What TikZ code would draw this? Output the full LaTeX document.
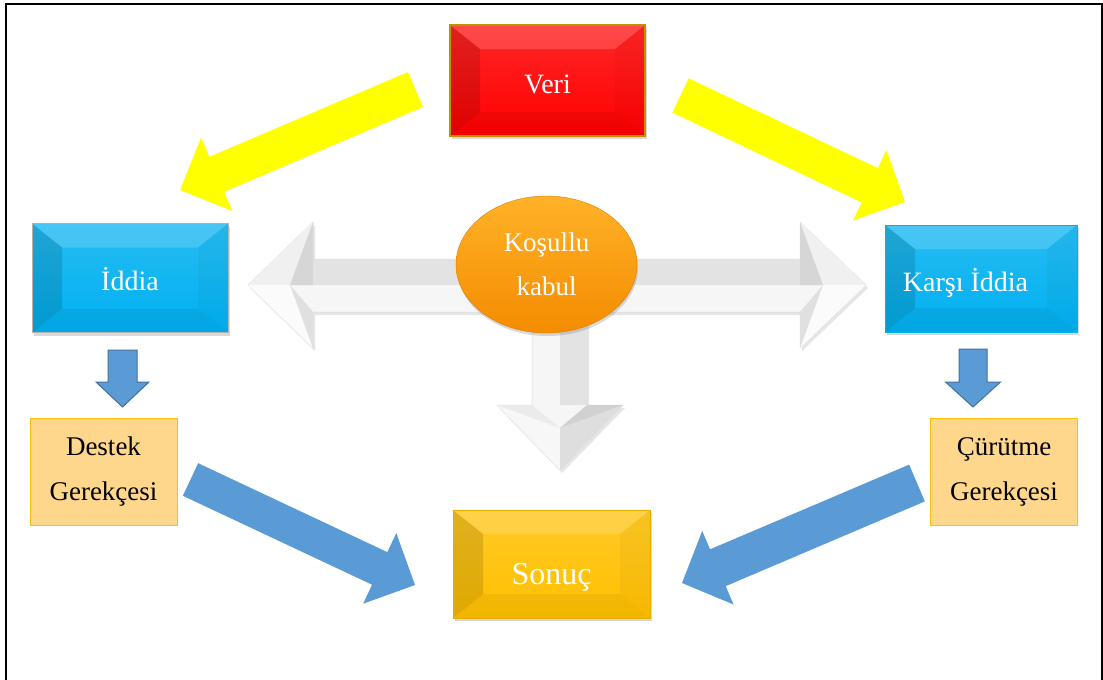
\documentclass[tikz,border=0pt]{standalone}
\usepackage{fontspec}
\setmainfont{Liberation Serif}
\usetikzlibrary{shapes.geometric,shadows,calc}

\definecolor{veriRed}{RGB}{255,0,0}
\definecolor{veriLine}{RGB}{192,144,0}
\definecolor{iddiaBlue}{RGB}{0,176,240}
\definecolor{sonucGold}{RGB}{255,192,0}
\definecolor{gerekceFill}{RGB}{255,215,140}
\definecolor{gerekceLine}{RGB}{255,192,0}
\definecolor{arrowYellow}{RGB}{255,255,0}
\definecolor{arrowBlue}{RGB}{91,155,213}
\definecolor{arrowBlueLine}{RGB}{65,113,156}
\definecolor{kabulTop}{RGB}{255,178,40}
\definecolor{kabulBottom}{RGB}{244,140,0}

\newcommand{\blockarrow}[6][]{%
  \coordinate (#2-#3-base) at ($(#3)!#6!(#2)$);
  \fill[#1] ($(#2)!#4!90:(#3)$) -- ($(#2-#3-base)!#4!90:(#3)$)
    -- ($(#2-#3-base)!#5!90:(#3)$) -- (#3)
    -- ($(#2-#3-base)!#5!-90:(#3)$) -- ($(#2-#3-base)!#4!-90:(#3)$)
    -- ($(#2)!#4!-90:(#3)$) -- cycle;
}

\tikzset{
  bevel/.style={
    rectangle,
    top color=#1!85!white,
    bottom color=#1,
    text=white,
    inner sep=0pt,
    text height=25pt,
    text depth=0pt,
    font=\fontsize{28}{32}\selectfont,
    drop shadow={opacity=.3,shadow xshift=1.5pt,shadow yshift=-3pt},
    path picture={
      \coordinate (nw) at (path picture bounding box.north west);
      \coordinate (ne) at (path picture bounding box.north east);
      \coordinate (sw) at (path picture bounding box.south west);
      \coordinate (se) at (path picture bounding box.south east);
      \fill[white,opacity=.16] (nw) -- (ne) -- ([shift={(-30pt,-24pt)}]ne) -- ([shift={(30pt,-24pt)}]nw) -- cycle;
      \fill[black,opacity=.12] (nw) -- ([shift={(30pt,-24pt)}]nw) -- ([shift={(30pt,24pt)}]sw) -- (sw) -- cycle;
      \fill[black,opacity=.03] (ne) -- ([shift={(-30pt,-24pt)}]ne) -- ([shift={(-30pt,24pt)}]se) -- (se) -- cycle;
      \fill[black,opacity=.05] (sw) -- ([shift={(30pt,24pt)}]sw) -- ([shift={(-30pt,24pt)}]se) -- (se) -- cycle;
    }
  },
  gerekce/.style={
    rectangle,
    fill=gerekceFill,
    draw=gerekceLine,
    line width=.8pt,
    inner sep=0pt,
    align=center,
    minimum width=147pt,
    minimum height=107pt,
    font=\fontsize{27}{45}\selectfont
  },
  kabul/.style={
    ellipse,
    top color=kabulTop,
    bottom color=kabulBottom,
    draw=kabulBottom!90!black,
    line width=.4pt,
    text=white,
    inner sep=0pt,
    align=center,
    minimum width=181pt,
    minimum height=137pt,
    font=\fontsize{27}{44}\selectfont,
    drop shadow={opacity=.3,shadow xshift=1pt,shadow yshift=-3pt}
  },
  grayarrow/.style={
    fill=gray!7,
    draw=gray!30,
    line width=.5pt,
    drop shadow={opacity=.2,shadow xshift=2pt,shadow yshift=-3pt}
  }
}

\begin{document}
\begin{tikzpicture}[x=1pt,y=-1pt]
  \useasboundingbox (0,0) rectangle (1103,680);
  \draw[line width=2pt] (6,680) -- (6,4) -- (1101.5,4) -- (1101.5,680);

  \fill[grayarrow] (248,285) -- (313,222) -- (313,259) -- (800,259) -- (800,222) -- (866,285)
    -- (800,348) -- (800,312) -- (313,312) -- (313,348) -- cycle;
  \fill[gray!22] (313,259) rectangle (800,285);
  \fill[gray!12] (248,285) -- (313,222) -- (290,285) -- cycle;
  \fill[gray!32] (313,222) -- (313,285) -- (290,285) -- cycle;
  \fill[gray!3] (248,285) -- (290,285) -- (313,348) -- cycle;
  \fill[gray!24] (290,285) -- (313,312) -- (313,348) -- cycle;
  \fill[gray!12] (866,285) -- (800,222) -- (823,285) -- cycle;
  \fill[gray!32] (800,222) -- (800,285) -- (823,285) -- cycle;
  \fill[gray!3] (866,285) -- (823,285) -- (800,348) -- cycle;
  \fill[gray!24] (823,285) -- (800,312) -- (800,348) -- cycle;

  \fill[grayarrow] (532,300) -- (587,300) -- (587,405) -- (623,405) -- (560,470) -- (497,405) -- (532,405) -- cycle;
  \fill[gray!22] (560,300) rectangle (587,405);
  \fill[gray!6] (497,405) -- (560,428) -- (560,470) -- cycle;
  \fill[gray!16] (497,405) -- (532,405) -- (560,428) -- cycle;
  \fill[gray!26] (623,405) -- (560,428) -- (560,470) -- cycle;
  \fill[gray!36] (623,405) -- (587,405) -- (560,428) -- cycle;

  \node[kabul] (kosul) at (546.5,264.5) {Koşullu\\kabul};

  \node[bevel=veriRed,draw=veriLine,line width=1.5pt,minimum width=195pt,minimum height=111pt] (veri) at (547.5,80.5) {Veri};
  \node[bevel=iddiaBlue,draw=gray!60,minimum width=196pt,minimum height=109pt] (iddia) at (130,278) {İddia};
  \node[bevel=iddiaBlue,draw=iddiaBlue,minimum width=192pt,minimum height=107pt] (karsi) at (981,278.5) {Karşı İddia\hspace*{31pt}};
  \node[bevel=sonucGold,draw=sonucGold!90!black,minimum width=197pt,minimum height=108pt,text height=40pt,font=\fontsize{32}{36}\selectfont] (sonuc) at (551.5,564) {Sonuç};

  \node[gerekce] (destek) at (103.5,471.5) {Destek\\Gerekçesi};
  \node[gerekce] (curutme) at (1004,471.5) {Çürütme\\Gerekçesi};

  \coordinate (yl-s) at (415.5,89.5);
  \coordinate (yl-e) at (180,190);
  \coordinate (yr-s) at (680.5,95.5);
  \coordinate (yr-e) at (905,202);
  \coordinate (bl-s) at (190.5,479.5);
  \coordinate (bl-e) at (415,585);
  \coordinate (br-s) at (917,483);
  \coordinate (br-e) at (682,583);
  \coordinate (dl-s) at (122.5,350);
  \coordinate (dl-e) at (122.5,407);
  \coordinate (dr-s) at (973,349);
  \coordinate (dr-e) at (973,407);

  \blockarrow[fill=arrowYellow]{yl-s}{yl-e}{19pt}{40pt}{40pt}
  \blockarrow[fill=arrowYellow]{yr-s}{yr-e}{19pt}{39pt}{39pt}
  \blockarrow[fill=arrowBlue]{bl-s}{bl-e}{18pt}{39pt}{39pt}
  \blockarrow[fill=arrowBlue]{br-s}{br-e}{20pt}{40pt}{39pt}
  \blockarrow[fill=arrowBlue,draw=arrowBlueLine,line width=1pt]{dl-s}{dl-e}{14.5pt}{26.5pt}{25pt}
  \blockarrow[fill=arrowBlue,draw=arrowBlueLine,line width=1pt]{dr-s}{dr-e}{14pt}{27.5pt}{25pt}
\end{tikzpicture}
\end{document}
